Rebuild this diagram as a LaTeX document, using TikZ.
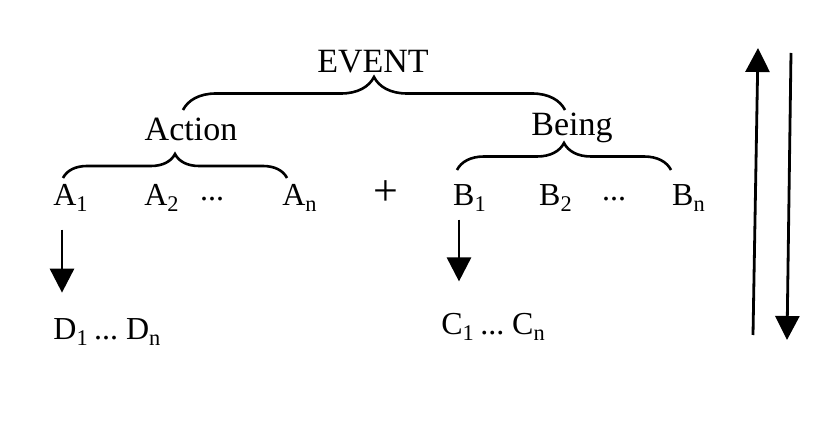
\documentclass[tikz,border=0pt]{standalone}
\usepackage{fontspec}
\setmainfont{Liberation Serif}
\usetikzlibrary{arrows.meta,decorations.pathreplacing}

\begin{document}
\begin{tikzpicture}[x=0.5pt,y=-0.5pt,
  bigtxt/.style={inner sep=0pt,anchor=base,font=\fontsize{17}{20}\selectfont},
  symtxt/.style={inner sep=0pt,anchor=base,font=\fontsize{16}{19}\selectfont},
  brc/.style={draw,line width=1.3pt,decorate,decoration={brace,amplitude=#1}},
  arr/.style={line width=1.4pt,-{Triangle[length=12pt,width=12pt]}},
]
\useasboundingbox (0,0) rectangle (815,427);

% top level
\node[bigtxt] (event) at (373,73) {EVENT};
\node[bigtxt] (action) at (191,141) {Action};
\node[bigtxt] (being) at (572,136) {Being};

% row of actions and beings
\node[symtxt] (a1) at (71,206) {A\textsubscript{1}};
\node[symtxt] (a2) at (162,206) {A\textsubscript{2}};
\node[symtxt] (adots) at (212,206) {\raisebox{2.5pt}{...}};
\node[symtxt] (an) at (300,206) {A\textsubscript{n}};
\node[symtxt,font=\fontsize{22}{24}\selectfont] (plus) at (386,206) {+};
\node[symtxt] (b1) at (470,206) {B\textsubscript{1}};
\node[symtxt] (b2) at (556,206) {B\textsubscript{2}};
\node[symtxt] (bdots) at (614,206) {\raisebox{2.5pt}{...}};
\node[symtxt] (bn) at (689,206) {B\textsubscript{n}};

% results
\node[symtxt,anchor=base west] (dd) at (53,340) {D\textsubscript{1}\,...\ D\textsubscript{n}};
\node[symtxt,anchor=base west] (cc) at (441,335) {C\textsubscript{1}\,...\ C\textsubscript{n}};

% braces
\coordinate (evL) at (183,110);
\coordinate (evR) at (565,110);
\coordinate (acL) at (63,178);
\coordinate (acR) at (287,178);
\coordinate (beL) at (457,170);
\coordinate (beR) at (671,170);
\draw[brc=16.5pt] (evL) -- (evR);
\draw[brc=12pt] (acL) -- (acR);
\draw[brc=13.5pt] (beL) -- (beR);

% downward arrows
\draw[arr,shorten <=9pt,shorten >=13pt] ([xshift=-4.5pt]a1.south) -- ([xshift=-4.5pt]a1.south |- dd.north);
\draw[arr,shorten <=4pt,shorten >=16pt] ([xshift=-5.5pt]b1.south) -- ([xshift=-5.5pt]b1.south |- cc.north);

% up and down pair
\coordinate (upS) at (753,335);
\coordinate (upT) at (758,48);
\coordinate (dnS) at (791,53);
\coordinate (dnT) at (787,340);
\draw[arr] (upS) -- (upT);
\draw[arr] (dnS) -- (dnT);
\end{tikzpicture}
\end{document}
